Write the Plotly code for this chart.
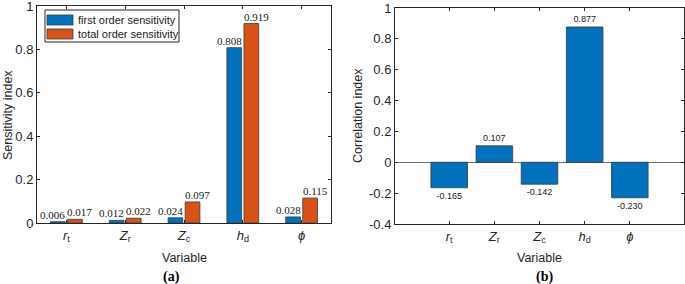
import plotly.graph_objects as go

# ---- data ----
variables = ["<i>r</i><sub>t</sub>", "<i>Z</i><sub>r</sub>", "<i>Z</i><sub>c</sub>",
             "<i>h</i><sub>d</sub>", "<i>ϕ</i>"]
positions = [1, 2, 3, 4, 5]
first_order = [0.006, 0.012, 0.024, 0.808, 0.028]
total_order = [0.017, 0.022, 0.097, 0.919, 0.115]
correlation = [-0.165, 0.107, -0.142, 0.877, -0.230]
left_yticks = [0, 0.2, 0.4, 0.6, 0.8, 1]
left_yticktext = ["0", "0.2", "0.4", "0.6", "0.8", "1"]
right_yticks = [-0.4, -0.2, 0, 0.2, 0.4, 0.6, 0.8, 1]
right_yticktext = ["-0.4", "-0.2", "0", "0.2", "0.4", "0.6", "0.8", "1"]
series_names = ["first order sensitivity", "total order sensitivity"]

BLUE = "#0072BD"
ORANGE = "#D95319"
EDGE = "#3a3a3a"
AX = "#262626"
SANS = "Liberation Sans, Arial, sans-serif"
SERIF = "Liberation Serif, Times New Roman, serif"

W, H = 685, 284
BW = 0.25          # bar width (left panel)
OFF_B, OFF_O = -0.27, 0.02

fig = go.Figure()

fig.add_trace(go.Bar(
    x=positions, y=first_order, name=series_names[0], showlegend=False,
    xaxis="x", yaxis="y", offset=OFF_B, width=BW,
    marker=dict(color=BLUE, line=dict(color=EDGE, width=0.8)),
))
fig.add_trace(go.Bar(
    x=positions, y=total_order, name=series_names[1], showlegend=False,
    xaxis="x", yaxis="y", offset=OFF_O, width=BW,
    marker=dict(color=ORANGE, line=dict(color=EDGE, width=0.8)),
))
fig.add_trace(go.Bar(
    x=positions, y=correlation, name="correlation", showlegend=False,
    xaxis="x2", yaxis="y2", offset=-0.405, width=0.81,
    marker=dict(color=BLUE, line=dict(color=EDGE, width=0.8)),
    text=[f"{v:.3f}" for v in correlation], textposition="outside",
    textfont=dict(family=SANS, size=9, color="#202020"),
    constraintext="none", cliponaxis=False,
))

axis_common = dict(
    showline=True, linecolor=AX, linewidth=1, mirror="ticks",
    ticks="inside", ticklen=3, tickcolor=AX, showgrid=False, zeroline=False,
    tickfont=dict(family=SANS, size=13, color=AX), automargin=False,
    ticklabeloverflow="allow",
)

fig.update_layout(
    width=W, height=H,
    margin=dict(l=0, r=0, t=0, b=0, autoexpand=False),
    paper_bgcolor="white", plot_bgcolor="white",
    barmode="overlay",
    showlegend=False,
    xaxis=dict(domain=[37 / W, 331 / W], range=[0.5, 5.5],
               tickvals=positions, ticktext=variables, anchor="y", **axis_common),
    yaxis=dict(domain=[(H - 223) / H, (H - 6) / H], range=[0, 1],
               tickvals=left_yticks, ticktext=left_yticktext, anchor="x", **axis_common),
    xaxis2=dict(domain=[395 / W, 684 / W], range=[-0.2, 6.2],
                tickvals=positions, ticktext=variables, anchor="y2", **axis_common),
    yaxis2=dict(domain=[(H - 224) / H, (H - 8) / H], range=[-0.4, 1],
                tickvals=right_yticks, ticktext=right_yticktext, anchor="x2", **axis_common),
)
fig.update_layout(yaxis2_zeroline=True, yaxis2_zerolinecolor="#6e6e6e", yaxis2_zerolinewidth=1)

ann = []
# value labels of the left panel (shifted outward like the original)
for p, v in zip(positions, first_order):
    ann.append(dict(text=f"{v:.3f}", x=p + OFF_B + BW / 2, y=v, xref="x", yref="y",
                    xanchor="center", yanchor="bottom", xshift=-5, yshift=-1, showarrow=False,
                    font=dict(family=SERIF, size=11, color="#202020")))
for p, v in zip(positions, total_order):
    ann.append(dict(text=f"{v:.3f}", x=p + OFF_O + BW / 2, y=v, xref="x", yref="y",
                    xanchor="center", yanchor="bottom", xshift=5, yshift=-1, showarrow=False,
                    font=dict(family=SERIF, size=11, color="#202020")))


def paper_text(text, x, y, size, family=SANS, angle=0, color=AX, xanchor="center"):
    return dict(text=text, x=x / W, y=(H - y) / H, xref="paper", yref="paper",
                xanchor=xanchor, yanchor="middle", showarrow=False, textangle=angle,
                font=dict(family=family, size=size, color=color))


ann.append(paper_text("Variable", 184, 258, 12.5))
ann.append(paper_text("Variable", 539, 258, 12.5))
ann.append(paper_text("Sensitivity index", 8, 115, 12.5, angle=-90))
ann.append(paper_text("Correlation index", 358, 116, 12.5, angle=-90))
ann.append(paper_text("<b>(a)</b>", 171, 277, 14, family=SERIF, color="black"))
ann.append(paper_text("<b>(b)</b>", 544, 277, 14, family=SERIF, color="black"))

# legend box (drawn like the original MATLAB legend with wide swatches)
shapes = [
    dict(type="rect", xref="paper", yref="paper", x0=45 / W, x1=179 / W,
         y0=(H - 42) / H, y1=(H - 10) / H, line=dict(color=AX, width=1), fillcolor="white"),
]
for i, (name, col) in enumerate(zip(series_names, [BLUE, ORANGE])):
    top = 15 + i * 14
    shapes.append(dict(type="rect", xref="paper", yref="paper", x0=47 / W, x1=73 / W,
                       y0=(H - top - 10) / H, y1=(H - top) / H,
                       line=dict(color=EDGE, width=0.8), fillcolor=col))
    ann.append(paper_text(name, 76, top + 5, 11, color="#202020", xanchor="left"))

fig.update_layout(annotations=ann, shapes=shapes)

fig.write_html(
    "out.html",
    config={"displayModeBar": False},
    post_script="document.body.style.margin='0';document.body.style.overflow='hidden';"
                "document.documentElement.style.overflow='hidden';",
)
